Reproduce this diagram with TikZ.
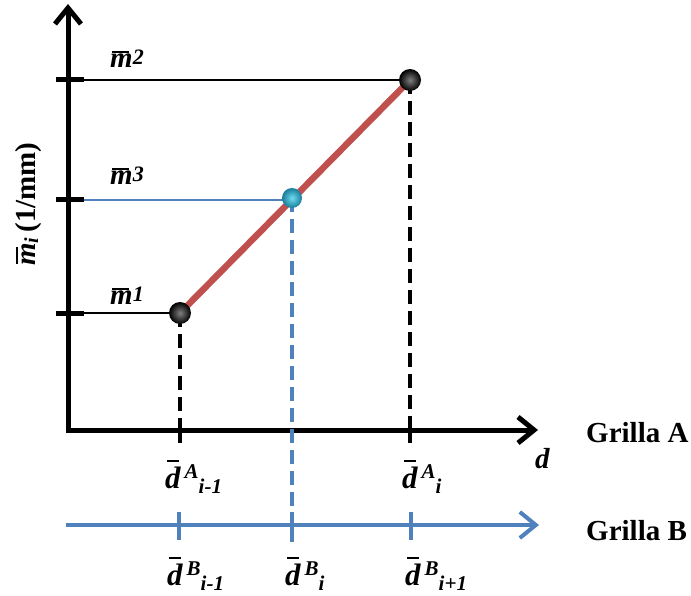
\documentclass[tikz,border=0pt]{standalone}
\usepackage{fontspec}
\setmainfont{Liberation Serif}
\usetikzlibrary{arrows.meta}
\newcommand{\dlabel}[2]{{\fontsize{31}{34}\selectfont\bfseries\itshape\makebox[0pt][l]{\hspace{2pt}\rule[26pt]{12pt}{2pt}}d\hspace{4pt}\raisebox{10pt}{\fontsize{21}{24}\selectfont #1}\raisebox{-5pt}{\fontsize{21}{24}\selectfont #2}}}
\newcommand{\mlabel}[1]{{\fontsize{29}{34}\selectfont\bfseries\itshape\makebox[0pt][l]{\hspace{2pt}\rule[15pt]{17pt}{2pt}}m\raisebox{3pt}{\fontsize{22}{24}\selectfont #1}}}
\definecolor{redline}{HTML}{C0504D}
\definecolor{blueline}{HTML}{4F81BD}
\definecolor{cyanin}{RGB}{110,220,240}
\definecolor{cyanout}{RGB}{25,125,155}
\tikzset{
  axisline/.style={line width=5pt, black, line join=miter, -{Straight Barb[length=16pt,width=26pt]}},
  baxisline/.style={line width=4pt, blueline, -{Straight Barb[length=16pt,width=26pt]}},
  ytick/.style={line width=5pt, black},
  xtick/.style={line width=4.5pt, black},
  btick/.style={line width=4pt, blueline},
  guide/.style={line width=1.5pt, black},
  bguide/.style={line width=2pt, blueline},
  bdash/.style={line width=4pt, black, dash pattern=on 14pt off 7pt},
  bldash/.style={line width=4.5pt, blueline, dash pattern=on 14pt off 7pt},
  redseg/.style={line width=6.5pt, redline},
  blackball/.style={circle, inner sep=0pt, minimum size=22pt, shade, inner color=black!50, outer color=black},
  cyanballst/.style={circle, inner sep=0pt, minimum size=20pt, shade, inner color=cyanin, outer color=cyanout},
  lab/.style={inner sep=0pt, anchor=base west},
  grl/.style={font=\fontsize{29}{34}\selectfont\bfseries, inner sep=0pt, anchor=base west},
}
\begin{document}
\begin{tikzpicture}[x=1pt,y=-1pt]
\useasboundingbox (0,0) rectangle (691,596);
% coordinates
\coordinate (Ytop) at (68,4);
\coordinate (O) at (68,430);
\coordinate (X0) at (66,430);
\coordinate (Xend) at (538,430);
\coordinate (B0) at (66,525);
\coordinate (Bend) at (539,525);
\coordinate (P1) at (180,313);
\coordinate (P2) at (410,80);
\coordinate (P3) at (292,198);
\coordinate (T1a) at (56,313); \coordinate (T1b) at (84,313);
\coordinate (T2a) at (56,80);  \coordinate (T2b) at (84,80);
\coordinate (T3a) at (56,200); \coordinate (T3b) at (84,200);
\coordinate (A1) at (180,430); \coordinate (A1t) at (180,418); \coordinate (A1b) at (180,443);
\coordinate (A2) at (410,430); \coordinate (A2t) at (410,418); \coordinate (A2b) at (410,443);
\coordinate (Bx1t) at (179,512); \coordinate (Bx1b) at (179,540);
\coordinate (Bx2t) at (292,512); \coordinate (Bx2b) at (292,540);
\coordinate (Bx3t) at (411,512); \coordinate (Bx3b) at (411,540);
\coordinate (P3end) at (292,542);
\coordinate (P3h) at (292,200);
% axes
\draw[axisline] (O) -- (Ytop);
\draw[axisline] (X0) -- (Xend);
\draw[baxisline] (B0) -- (Bend);
% ticks
\draw[ytick] (T1a) -- (T1b);
\draw[ytick] (T2a) -- (T2b);
\draw[ytick] (T3a) -- (T3b);
% guide lines
\draw[guide] (T1b) -- (P1);
\draw[guide] (T2b) -- (P2);
\draw[bguide] (T3b) -- (P3h);
% dashed drops
\draw[bdash] (P1) -- (A1);
\draw[bdash] (P2) -- (A2);
\draw[xtick] (A1t) -- (A1b);
\draw[xtick] (A2t) -- (A2b);
\draw[btick] (Bx1t) -- (Bx1b);
\draw[btick] (Bx2t) -- (Bx2b);
\draw[btick] (Bx3t) -- (Bx3b);
\draw[bldash] (P3) -- (P3end);
% red segment
\draw[redseg] (P1) -- (P2);
% balls
\node[blackball] (n1) at (P1) {};
\node[blackball] (n2) at (P2) {};
\node[cyanballst] (n3) at (P3) {};
% labels
\node[lab] (lm2) at (110,68) {\mlabel{2}};
\node[lab] (lm3) at (110,185) {\mlabel{3}};
\node[lab] (lm1) at (110,305) {\mlabel{1}};
\node[inner sep=0pt, anchor=base, rotate=90] (ylab) at (35,204) {{\fontsize{29}{34}\selectfont\bfseries\itshape\makebox[0pt][l]{\hspace{2pt}\rule[17pt]{17pt}{2pt}}m\raisebox{-3pt}{\fontsize{20}{22}\selectfont i}}\hspace{5pt}{\fontsize{29}{34}\selectfont\bfseries (1/mm)}};
\node[lab] (dA1) at (165,488) {\dlabel{A}{i-1}};
\node[lab] (dA2) at (402,488) {\dlabel{A}{i}};
\node[lab] (dB1) at (167,585) {\dlabel{B}{i-1}};
\node[lab] (dB2) at (285,585) {\dlabel{B}{i}};
\node[lab] (dB3) at (405,585) {\dlabel{B}{i+1}};
\node[lab, font=\fontsize{29}{34}\selectfont\bfseries\itshape] (dlab) at (535,468) {d};
\node[grl] (gA) at (586,442) {Grilla A};
\node[grl] (gB) at (586,540) {Grilla B};
\end{tikzpicture}
\end{document}
